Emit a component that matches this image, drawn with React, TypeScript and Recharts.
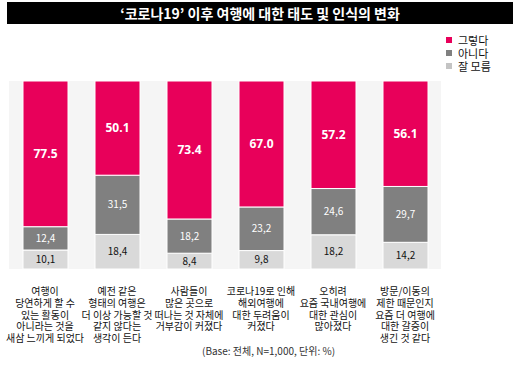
import React from "react";
import {
  BarChart,
  Bar,
  XAxis,
  YAxis,
  CartesianGrid,
  Legend,
  LabelList,
} from "recharts";

const categories = [
  ["여행이", "당연하게 할 수", "있는 활동이", "아니라는 것을", "새삼 느끼게 되었다"],
  ["예전 같은", "형태의 여행은", "더 이상 가능할 것", "같지 않다는", "생각이 든다"],
  ["사람들이", "많은 곳으로", "떠나는 것 자체에", "거부감이 커졌다"],
  ["코로나19로 인해", "해외여행에", "대한 두려움이", "커졌다"],
  ["오히려", "요즘 국내여행에", "대한 관심이", "많아졌다"],
  ["방문/이동의", "제한 때문인지", "요즘 더 여행에", "대한 갈증이", "생긴 것 같다"],
];
const yes = [77.5, 50.1, 73.4, 67.0, 57.2, 56.1];
const no = [12.4, 31.5, 18.2, 23.2, 24.6, 29.7];
const dunno = [10.1, 18.4, 8.4, 9.8, 18.2, 14.2];

const series = [
  { key: "yes", name: "그렇다", color: "#e8005a" },
  { key: "no", name: "아니다", color: "#808080" },
  { key: "dunno", name: "잘 모름", color: "#d9d9d9" },
];

const data = categories.map((lines, i) => ({
  id: String(i),
  lines,
  yes: yes[i],
  no: no[i],
  dunno: dunno[i],
}));

const FONT = "'Noto Sans CJK KR', 'Noto Sans', sans-serif";
const comma = (v: number) => v.toFixed(1).replace(".", ",");

function CategoryTick({ x, y, payload }: any) {
  const lines: string[] = data[payload.index]?.lines ?? [];
  return (
    <g>
      {lines.map((l, i) => (
        <text
          key={i}
          x={x}
          y={y + 18 + i * 11.8}
          textAnchor="middle"
          fontSize={10}
          fill="#111"
          fontFamily={FONT}
        >
          {l}
        </text>
      ))}
    </g>
  );
}

function LegendBox() {
  return (
    <div style={{ fontFamily: FONT, fontSize: 11, color: "#111" }}>
      {series.map((s) => (
        <div key={s.key} style={{ display: "flex", alignItems: "center", height: 13 }}>
          <span
            style={{
              width: 6,
              height: 6,
              background: s.key === "dunno" ? "#c4c4c4" : s.color,
              marginRight: 6,
              display: "inline-block",
            }}
          />
          {s.name}
        </div>
      ))}
    </div>
  );
}

export default function App() {
  return (
    <div
      style={{
        position: "absolute",
        left: 0,
        top: 0,
        width: 520,
        height: 373,
        background: "#fff",
        fontFamily: FONT,
      }}
    >
      <div
        style={{
          position: "absolute",
          left: 7,
          top: 2,
          width: 506,
          height: 22,
          background: "#000",
          color: "#fff",
          fontWeight: 700,
          fontSize: 14,
          lineHeight: "22px",
          textAlign: "center",
        }}
      >
        ‘코로나19’ 이후 여행에 대한 태도 및 인식의 변화
      </div>
      <BarChart
        width={520}
        height={373}
        data={data}
        margin={{ top: 81, right: 9, left: 9, bottom: 0 }}
        style={{ position: "absolute", left: 0, top: 0 }}
      >
        <CartesianGrid horizontal={false} vertical={false} fill="#f5f5f5" />
        <XAxis
          dataKey="id"
          height={104}
          axisLine={false}
          tickLine={false}
          interval={0}
          tick={<CategoryTick />}
        />
        <YAxis hide domain={[0, 100]} />
        <Legend
          layout="vertical"
          verticalAlign="top"
          align="right"
          content={<LegendBox />}
          wrapperStyle={{ position: "absolute", left: 446, top: 33, width: 70 }}
        />
        <Bar dataKey="dunno" stackId="a" fill="#d9d9d9" stroke="#fff" strokeWidth={1} barSize={45} isAnimationActive={false}>
          <LabelList dataKey="dunno" position="center" formatter={comma} fill="#111" fontSize={10} fontFamily={FONT} />
        </Bar>
        <Bar dataKey="no" stackId="a" fill="#808080" stroke="#fff" strokeWidth={1} barSize={45} isAnimationActive={false}>
          <LabelList dataKey="no" position="center" formatter={comma} fill="#fff" fontSize={10} fontFamily={FONT} />
        </Bar>
        <Bar dataKey="yes" stackId="a" fill="#e8005a" stroke="#fff" strokeWidth={1} barSize={45} isAnimationActive={false}>
          <LabelList
            dataKey="yes"
            position="center"
            formatter={(v: number) => v.toFixed(1)}
            fill="#fff"
            fontSize={12}
            fontWeight={700}
            fontFamily="'Open Sans', sans-serif"
          />
        </Bar>
      </BarChart>
      <div
        style={{
          position: "absolute",
          left: 202,
          top: 343,
          fontSize: 10,
          color: "#333",
          whiteSpace: "nowrap",
        }}
      >
        (Base: 전체, N=1,000, 단위: %)
      </div>
    </div>
  );
}
